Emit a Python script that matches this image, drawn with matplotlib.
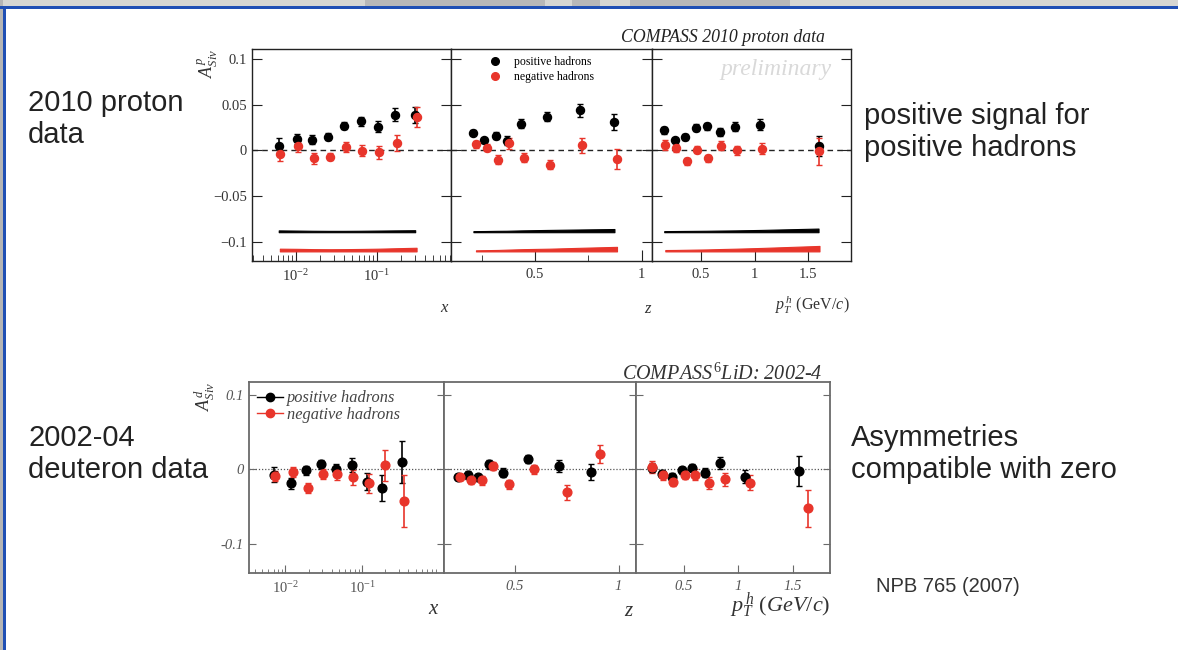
import numpy as np
import matplotlib
matplotlib.use("Agg")
import matplotlib.pyplot as plt
from matplotlib.lines import Line2D
from matplotlib.patches import Rectangle
from matplotlib.ticker import FixedLocator, NullFormatter

plt.rcParams['mathtext.fontset'] = 'custom'
plt.rcParams['mathtext.rm'] = 'Liberation Serif'
plt.rcParams['mathtext.it'] = 'Liberation Serif:italic'
plt.rcParams['mathtext.bf'] = 'Liberation Serif:bold'
plt.rcParams['font.family'] = ['Liberation Serif', 'DejaVu Serif']

# ---------------- DATA: 2010 proton (top) ----------------
p_x_pos = [0.0062, 0.0103, 0.0161, 0.0255, 0.040, 0.0634, 0.104, 0.168, 0.30]
p_x_pos_A = [0.0052, 0.0125, 0.0118, 0.015, 0.027, 0.032, 0.026, 0.039, 0.039]
p_x_pos_E = [0.008, 0.005, 0.005, 0.004, 0.004, 0.005, 0.006, 0.007, 0.009]
p_x_pos_S = [0.0020, 0.0018, 0.0016, 0.0015, 0.0015, 0.0016, 0.0018, 0.0020, 0.0022]
p_x_neg = [0.0064, 0.0108, 0.0169, 0.0268, 0.0415, 0.066, 0.108, 0.177, 0.312]
p_x_neg_A = [-0.0037, 0.0044, -0.0085, -0.007, 0.0037, -0.0004, -0.0022, 0.008, 0.037]
p_x_neg_E = [0.008, 0.006, 0.006, 0.004, 0.005, 0.006, 0.007, 0.009, 0.011]
p_x_neg_S = [0.0030, 0.0028, 0.0025, 0.0024, 0.0025, 0.0027, 0.0030, 0.0035, 0.0040]

p_z_pos = [0.211, 0.2625, 0.317, 0.367, 0.436, 0.558, 0.7125, 0.872]
p_z_pos_A = [0.0195, 0.011, 0.016, 0.0107, 0.0294, 0.0368, 0.044, 0.031]
p_z_pos_E = [0.003, 0.003, 0.004, 0.005, 0.005, 0.005, 0.007, 0.009]
p_z_pos_S = [0.0012, 0.0013, 0.0015, 0.0016, 0.0020, 0.0025, 0.0030, 0.0035]
p_z_neg = [0.223, 0.275, 0.325, 0.377, 0.448, 0.570, 0.722, 0.884]
p_z_neg_A = [0.0066, 0.003, -0.0103, 0.0077, -0.008, -0.0158, 0.0055, -0.0096]
p_z_neg_E = [0.004, 0.004, 0.005, 0.006, 0.005, 0.005, 0.008, 0.011]
p_z_neg_S = [0.0012, 0.0014, 0.0016, 0.0020, 0.0025, 0.0030, 0.0040, 0.0050]

p_pt_pos = [0.157, 0.254, 0.35, 0.453, 0.553, 0.674, 0.821, 1.055, 1.597]
p_pt_pos_A = [0.022, 0.011, 0.0147, 0.025, 0.0265, 0.020, 0.026, 0.028, 0.0044]
p_pt_pos_E = [0.004, 0.003, 0.003, 0.004, 0.004, 0.004, 0.005, 0.006, 0.011]
p_pt_pos_S = [0.0012, 0.0013, 0.0014, 0.0015, 0.0016, 0.0018, 0.0020, 0.0025, 0.0040]
p_pt_neg = [0.167, 0.263, 0.366, 0.466, 0.562, 0.684, 0.833, 1.067, 1.606]
p_pt_neg_A = [0.006, 0.0026, -0.0118, 0.0007, -0.0085, 0.005, 0.0, 0.002, -0.001]
p_pt_neg_E = [0.005, 0.004, 0.004, 0.004, 0.004, 0.005, 0.005, 0.006, 0.015]
p_pt_neg_S = [0.0015, 0.0016, 0.0018, 0.0020, 0.0022, 0.0026, 0.0030, 0.0038, 0.0060]

# ---------------- DATA: 2002-04 deuteron (bottom) ----------------
d_x_pos = [0.0070, 0.0118, 0.0187, 0.0289, 0.0452, 0.0728, 0.116, 0.183, 0.326]
d_x_pos_A = [-0.0071, -0.019, -0.0013, 0.007, 0.0004, 0.0058, -0.0164, -0.0253, 0.010]
d_x_pos_E = [0.010, 0.007, 0.006, 0.006, 0.007, 0.009, 0.012, 0.017, 0.028]
d_x_neg = [0.0074, 0.0126, 0.0195, 0.0304, 0.0475, 0.0757, 0.122, 0.196, 0.352]
d_x_neg_A = [-0.0089, -0.004, -0.0253, -0.0062, -0.0067, -0.0107, -0.019, 0.0053, -0.043]
d_x_neg_E = [0.007, 0.007, 0.007, 0.007, 0.008, 0.010, 0.013, 0.021, 0.035]

d_z_pos = [0.226, 0.277, 0.325, 0.377, 0.4455, 0.564, 0.715, 0.869]
d_z_pos_A = [-0.0098, -0.0075, -0.011, 0.0067, -0.0049, 0.0138, 0.0044, -0.0036]
d_z_pos_E = [0.004, 0.005, 0.005, 0.006, 0.006, 0.006, 0.008, 0.011]
d_z_neg = [0.2356, 0.29, 0.341, 0.393, 0.470, 0.5945, 0.75, 0.912]
d_z_neg_A = [-0.010, -0.0147, -0.015, 0.0044, -0.020, 0.0, -0.031, 0.0204]
d_z_neg_E = [0.004, 0.005, 0.006, 0.006, 0.006, 0.006, 0.010, 0.012]

d_pt_pos = [0.21, 0.302, 0.393, 0.485, 0.576, 0.698, 0.835, 1.058, 1.558]
d_pt_pos_A = [0.0022, -0.0058, -0.010, -0.0013, 0.0022, -0.0049, 0.0089, -0.010, -0.0027]
d_pt_pos_E = [0.006, 0.005, 0.005, 0.005, 0.005, 0.006, 0.008, 0.009, 0.020]
d_pt_neg = [0.213, 0.311, 0.402, 0.509, 0.607, 0.732, 0.881, 1.11, 1.637]
d_pt_neg_A = [0.003, -0.008, -0.0164, -0.0071, -0.0071, -0.019, -0.0133, -0.0178, -0.0524]
d_pt_neg_E = [0.008, 0.006, 0.006, 0.006, 0.007, 0.008, 0.009, 0.010, 0.025]

top_yticks = [-0.1, -0.05, 0, 0.05, 0.1]
top_yticklabels = ['\u22120.1', '\u22120.05', '0', '0.05', '0.1']
bot_yticks = [-0.1, 0, 0.1]
bot_yticklabels = ['-0.1', '0', '0.1']
legend_labels = ['positive hadrons', 'negative hadrons']

RED = '#e8352b'
W, H = 1178, 650

fig = plt.figure(figsize=(W / 100, H / 100), dpi=100)
fig.patch.set_facecolor('white')

def rect(x0, y0, x1, y1):
    return [x0 / W, 1 - y1 / H, (x1 - x0) / W, (y1 - y0) / H]

# slide frame
fig.patches.append(Rectangle((0, 1 - 6 / H), 1, 6 / H, transform=fig.transFigure,
                             facecolor='#d6d6d2', edgecolor='none', zorder=0))
for (a, b) in [(365, 545), (572, 600), (630, 790)]:
    fig.patches.append(Rectangle((a / W, 1 - 6 / H), (b - a) / W, 6 / H, transform=fig.transFigure,
                                 facecolor='#b8b8b8', edgecolor='none', zorder=0))
fig.patches.append(Rectangle((0, 1 - 9 / H), 1, 3 / H, transform=fig.transFigure,
                             facecolor='#1f4fb4', edgecolor='none', zorder=1))
fig.patches.append(Rectangle((0, 0), 2.5 / W, 1, transform=fig.transFigure,
                             facecolor='#b5b5b5', edgecolor='none', zorder=0))
fig.patches.append(Rectangle((2.5 / W, 0), 3 / W, 1 - 7 / H, transform=fig.transFigure,
                             facecolor='#1f4fb4', edgecolor='none', zorder=1))

def style_top(ax, first):
    for s in ax.spines.values():
        s.set_color('#222222')
        s.set_linewidth(1.0)
    ax.tick_params(axis='both', which='both', direction='in', colors='#222222',
                   labelcolor='#333333', labelsize=10.5)
    ax.tick_params(axis='y', which='major', left=True, right=True, length=7)
    ax.tick_params(axis='x', which='major', length=8, pad=5)
    ax.tick_params(axis='x', which='minor', length=4)
    ax.set_ylim(-0.121, 0.111)
    ax.set_yticks(top_yticks)
    if first:
        ax.set_yticklabels(top_yticklabels)
    else:
        ax.set_yticklabels([])
    ax.axhline(0, color='#222222', lw=1.0, ls=(0, (4, 3)), zorder=1)

def style_bot(ax, first):
    for s in ax.spines.values():
        s.set_color('#6a6a6a')
        s.set_linewidth(1.3)
    ax.tick_params(axis='both', which='both', direction='in', colors='#6a6a6a',
                   labelcolor='#555555', labelsize=10.5)
    ax.tick_params(axis='y', which='major', left=True, right=True, length=5)
    ax.tick_params(axis='x', which='major', length=6, pad=5)
    ax.tick_params(axis='x', which='minor', length=3)
    ax.set_ylim(-0.139, 0.117)
    ax.set_yticks(bot_yticks)
    if first:
        ax.set_yticklabels(bot_yticklabels, fontstyle='italic')
    else:
        ax.set_yticklabels([])
    ax.axhline(0, color='#555555', lw=0.9, ls=(0, (1, 1.5)), zorder=1)

def pts(ax, x, y, e, color, ms=5.8):
    ax.errorbar(x, y, yerr=e, fmt='o', color=color, ms=ms, elinewidth=1.2,
                capsize=2, capthick=1.0, zorder=3)

def band(ax, x, syst, base, color):
    x = np.asarray(x)
    s = np.asarray(syst)
    ax.fill_between(x, base, base + s, color=color, lw=0.8, edgecolor=color, zorder=2)

# ---------------- top panels ----------------
ax1 = fig.add_axes(rect(252, 49, 451, 261))
ax2 = fig.add_axes(rect(451, 49, 652, 261))
ax3 = fig.add_axes(rect(652, 49, 851, 261))

ax1.set_xscale('log')
ax1.set_xlim(0.0029, 0.83)
ax1.set_xticks([0.01, 0.1])
ax1.set_xticklabels(['$10^{-2}$', '$10^{-1}$'])
ax1.xaxis.set_minor_locator(FixedLocator([m * 10.0 ** k for k in (-3, -2, -1) for m in range(2, 10)]))
ax1.xaxis.set_minor_formatter(NullFormatter())
style_top(ax1, True)

ax2.set_xlim(0.106, 1.048)
ax2.set_xticks([0.5, 1.0])
ax2.set_xticklabels(['0.5', '1'])
ax2.xaxis.set_minor_locator(FixedLocator([0.25, 0.75]))
style_top(ax2, False)

ax3.set_xlim(0.043, 1.90)
ax3.set_xticks([0.5, 1.0, 1.5])
ax3.set_xticklabels(['0.5', '1', '1.5'])
style_top(ax3, False)

for ax, xp, yp, ep, sp, xn, yn, en, sn in [
        (ax1, p_x_pos, p_x_pos_A, p_x_pos_E, p_x_pos_S, p_x_neg, p_x_neg_A, p_x_neg_E, p_x_neg_S),
        (ax2, p_z_pos, p_z_pos_A, p_z_pos_E, p_z_pos_S, p_z_neg, p_z_neg_A, p_z_neg_E, p_z_neg_S),
        (ax3, p_pt_pos, p_pt_pos_A, p_pt_pos_E, p_pt_pos_S, p_pt_neg, p_pt_neg_A, p_pt_neg_E, p_pt_neg_S)]:
    band(ax, xp, sp, -0.0895, 'black')
    band(ax, xn, sn, -0.1105, RED)
    pts(ax, xp, yp, ep, 'black')
    pts(ax, xn, yn, en, RED)

h_top = [Line2D([], [], ls='none', marker='o', color='black', ms=5.5),
         Line2D([], [], ls='none', marker='o', color=RED, ms=5.5)]
ax2.legend(h_top, legend_labels, loc='upper left', bbox_to_anchor=(0.145, 1.01),
           frameon=False, fontsize=8.5, handletextpad=1.1, labelspacing=0.2,
           handlelength=1.0, borderpad=0.3)

ax3.text(0.9, 0.905, 'preliminary', transform=ax3.transAxes, ha='right', va='center',
         fontsize=17, fontstyle='italic', color='#d9d9d9')

fig.text(825 / W, 1 - 37 / H, 'COMPASS 2010 proton data', ha='right', va='center',
         fontsize=12.8, fontstyle='italic', color='#222222')
fig.text(208 / W, 1 - 63 / H, r'$A^{p}_{Siv}$', rotation=90, ha='center', va='center',
         fontsize=13, color='#333333')
fig.text(445 / W, 1 - 308 / H, r'$x$', ha='center', va='center', fontsize=12, color='#333333')
fig.text(648 / W, 1 - 309 / H, r'$z$', ha='center', va='center', fontsize=12, color='#333333')
fig.text(850 / W, 1 - 305 / H, r'$p^{\,h}_{T}$ (GeV/$c$)', ha='right', va='center',
         fontsize=11.5, color='#333333')

# ---------------- bottom panels ----------------
bx1 = fig.add_axes(rect(249, 382, 444, 573))
bx2 = fig.add_axes(rect(444, 382, 636, 573))
bx3 = fig.add_axes(rect(636, 382, 830, 573))

bx1.set_xscale('log')
bx1.set_xlim(0.00335, 1.16)
bx1.set_xticks([0.01, 0.1])
bx1.set_xticklabels([r'$\mathit{10}^{\mathit{-2}}$', r'$\mathit{10}^{\mathit{-1}}$'])
bx1.xaxis.set_minor_locator(FixedLocator([m * 10.0 ** k for k in (-3, -2, -1, 0) for m in range(2, 10)]))
bx1.xaxis.set_minor_formatter(NullFormatter())
style_bot(bx1, True)

bx2.set_xlim(0.159, 1.084)
bx2.set_xticks([0.5, 1.0])
bx2.set_xticklabels(['0.5', '1'], fontstyle='italic')
style_bot(bx2, False)

bx3.set_xlim(0.065, 1.84)
bx3.set_xticks([0.5, 1.0, 1.5])
bx3.set_xticklabels(['0.5', '1', '1.5'], fontstyle='italic')
style_bot(bx3, False)

for ax, xp, yp, ep, xn, yn, en in [
        (bx1, d_x_pos, d_x_pos_A, d_x_pos_E, d_x_neg, d_x_neg_A, d_x_neg_E),
        (bx2, d_z_pos, d_z_pos_A, d_z_pos_E, d_z_neg, d_z_neg_A, d_z_neg_E),
        (bx3, d_pt_pos, d_pt_pos_A, d_pt_pos_E, d_pt_neg, d_pt_neg_A, d_pt_neg_E)]:
    pts(ax, xp, yp, ep, 'black', ms=6.3)
    pts(ax, xn, yn, en, RED, ms=6.3)

h_bot = [Line2D([], [], ls='-', lw=1.0, marker='o', color='black', ms=6),
         Line2D([], [], ls='-', lw=1.0, marker='o', color=RED, ms=6)]
bx1.legend(h_bot, legend_labels, loc='upper left', bbox_to_anchor=(-0.025, 1.025),
           frameon=False, prop={'family': 'Liberation Serif', 'style': 'italic', 'size': 11.8},
           handletextpad=0.2, labelspacing=0.05, handlelength=1.6, borderpad=0.3,
           labelcolor='#444444')

fig.text(822 / W, 1 - 374 / H, r'COMPASS$^{\,6}$LiD: 2002-4', ha='right', va='center',
         fontsize=14.5, fontstyle='italic', color='#333333')
fig.text(205 / W, 1 - 396 / H, r'$A^{d}_{Siv}$', rotation=90, ha='center', va='center',
         fontsize=13, color='#333333')
fig.text(434 / W, 1 - 610 / H, r'$x$', ha='center', va='center', fontsize=15, color='#333333')
fig.text(629 / W, 1 - 612 / H, r'$z$', ha='center', va='center', fontsize=15, color='#333333')
fig.text(830 / W, 1 - 606 / H, r'$p^{\,h}_{T}$ ($\mathit{GeV/c}$)', ha='right', va='center',
         fontsize=16, color='#333333')

# ---------------- slide text ----------------
sans = dict(family=['Liberation Sans', 'DejaVu Sans'], color='#222222', fontsize=21)
fig.text(28 / W, 1 - 103 / H, '2010 proton', ha='left', va='center', **sans)
fig.text(28 / W, 1 - 135 / H, 'data', ha='left', va='center', **sans)
fig.text(864 / W, 1 - 116 / H, 'positive signal for', ha='left', va='center', **sans)
fig.text(864 / W, 1 - 148 / H, 'positive hadrons', ha='left', va='center', **sans)
fig.text(28 / W, 1 - 438 / H, '2002-04', ha='left', va='center', **sans)
fig.text(28 / W, 1 - 470 / H, 'deuteron data', ha='left', va='center', **sans)
fig.text(851 / W, 1 - 438 / H, 'Asymmetries', ha='left', va='center', **sans)
fig.text(851 / W, 1 - 470 / H, 'compatible with zero', ha='left', va='center', **sans)
fig.text(876 / W, 1 - 586 / H, 'NPB 765 (2007)', ha='left', va='center',
         family=['Liberation Sans', 'DejaVu Sans'], color='#333333', fontsize=14.5)

fig.savefig('out.png', dpi=100)
